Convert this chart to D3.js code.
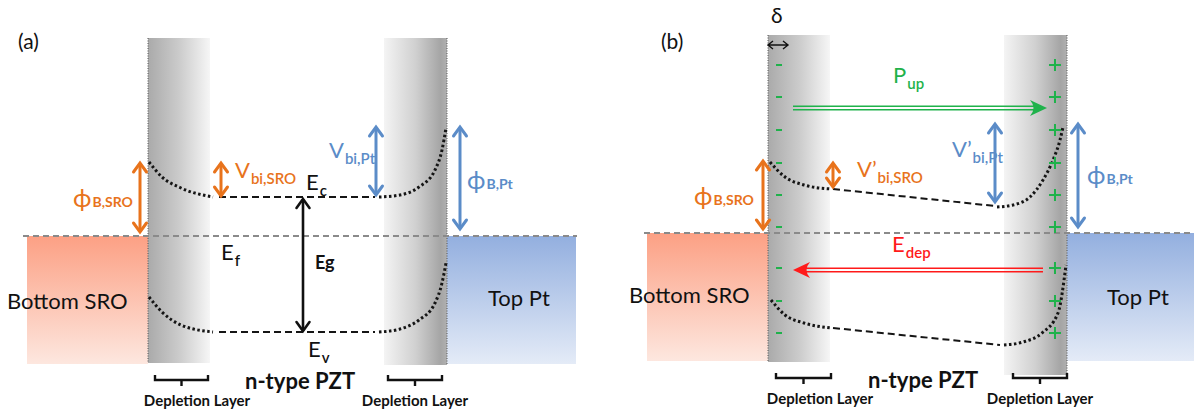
<!DOCTYPE html>
<html>
<head>
<meta charset="utf-8">
<script src="https://cdn.jsdelivr.net/npm/d3@7"></script>
<style>
body { margin: 0; background: #fff; }
text { font-family: Lato, "DejaVu Sans", sans-serif; }
</style>
</head>
<body>
<svg></svg>
<script>
let width = 1194
let height = 414

// two panels share one layout, (b) is drawn 620 px to the right
let panelNames = ['(a)', '(b)']
let panelShift = [[0, 0], [620, -3]]

// depth along the stack (diagram units) and energy (eV, Fermi level = 0)
let sroSpan = [27, 148]
let ptSpan = [447, 576]
let deplLeft = [148, 210]
let deplRight = [384, 447]
let metalEnergy = [0, -2.56]
let columnTop = 3.96
let columnBottoms = [[-2.54, -2.58], [-2.58, -2.84]]
let fermiSpans = [[23, 577], [24, 580]]

// panel (a): flat bands
let ecCurveLeftA = [[149, 1.48], [162, 1.18], [181, 0.96], [213, 0.78]]
let ecBulkA = [[219, 0.78], [375, 0.78]]
let ecCurveRightA = [[379, 0.78], [400, 0.82], [419, 0.98], [435, 1.32], [442, 1.72], [446, 2.16]]
let evCurveLeftA = [[149, -1.22], [162, -1.52], [181, -1.78], [213, -1.92]]
let evBulkA = [[219, -1.92], [375, -1.92]]
let evCurveRightA = [[379, -1.92], [400, -1.86], [419, -1.68], [435, -1.34], [442, -0.94], [446, -0.54]]

// panel (b): tilted bands under P_up
let ecCurveLeftB = [[150, 1.42], [165, 1.12], [184, 0.96], [211, 0.88]]
let ecBulkB = [[213, 0.88], [375, 0.54]]
let ecCurveRightB = [[377, 0.52], [393, 0.56], [410, 0.72], [423, 1.06], [433, 1.46], [440, 1.86], [443, 2.12]]
let evCurveLeftB = [[151, -1.34], [165, -1.64], [184, -1.80], [211, -1.90]]
let evBulkB = [[213, -1.90], [380, -2.24]]
let evCurveRightB = [[384, -2.24], [403, -2.18], [422, -2.00], [438, -1.60], [446, -0.64]]

// double-headed arrows: [depth, energy from, energy to, colour key]
let arrowsA = [[140, 1.48, 0.06, 'orange'], [221, 1.48, 0.78, 'orange'], [303, 0.76, -1.92, 'black'],
  [376, 2.2, 0.8, 'blue'], [460, 2.2, 0.12, 'blue']]
let arrowsB = [[143, 1.46, 0.06, 'orange'], [213, 1.42, 0.9, 'orange'],
  [375, 2.2, 0.6, 'blue'], [458, 2.2, 0.1, 'blue']]

// polarisation and depolarisation field arrows (b): [from, to, energy, colour key]
let fieldArrows = [[173, 427, 2.5, 'green'], [423, 173, -0.74, 'red']]

// bound charge rows (b)
let chargeEnergies = [3.36, 2.72, 2.06, 1.40, 0.76, 0.12, -0.70, -1.36, -2.00]
let chargeDepths = [159, 435]

// labels: [main, subscript, depth, energy, colour key, kind]
let labelsA = [
  ['(a)', '', 18, 3.74, 'black', 'title'],
  ['ϕ', 'B,SRO', 73, 0.58, 'orange', 'phi'],
  ['V', 'bi,SRO', 235, 1.16, 'orange', 'sym'],
  ['E', 'c', 306, 0.92, 'black', 'sym'],
  ['E', 'f', 221, -0.48, 'black', 'sym'],
  ['Eg', '', 315, -0.66, 'black', 'bold'],
  ['E', 'v', 308, -2.42, 'black', 'sym'],
  ['V', 'bi,Pt', 329, 1.56, 'blue', 'sym'],
  ['ϕ', 'B,Pt', 467, 0.94, 'blue', 'phi'],
  ['Bottom SRO', '', 7, -1.46, 'black', 'layer'],
  ['Top Pt', '', 488, -1.40, 'black', 'layer'],
  ['n-type PZT', '', 245, -3.06, 'black', 'pzt']
]
let labelsB = [
  ['(b)', '', 41, 3.68, 'black', 'title'],
  ['δ', '', 151, 4.2, 'black', 'title'],
  ['P', 'up', 273, 3.0, 'green', 'sym'],
  ['E', 'dep', 272, -0.38, 'red', 'sym'],
  ['ϕ', 'B,SRO', 74, 0.56, 'orange', 'phi'],
  ['V’', 'bi,SRO', 237, 1.12, 'orange', 'sym'],
  ['V’', 'bi,Pt', 332, 1.52, 'blue', 'sym'],
  ['ϕ', 'B,Pt', 467, 0.98, 'blue', 'phi'],
  ['Bottom SRO', '', 9, -1.40, 'black', 'layer'],
  ['Top Pt', '', 487, -1.44, 'black', 'layer'],
  ['n-type PZT', '', 248, -3.1, 'black', 'pzt']
]
let bracketsA = [[155, 208], [388, 442]]
let bracketsB = [[156, 211], [393, 447]]
let bracketEnergy = [-2.78, -2.8]
let depletionText = 'Depletion Layer'
let depletionCenters = [[197, 415], [200, 420]]
let depletionTextEnergy = [-3.40, -3.42]

let colors = { orange: '#e8731c', blue: '#5b8cc8', black: '#111', green: '#1fb24b', red: '#ff1a1a' }

let svg = d3.select('svg').attr('width', width).attr('height', height)
let defs = svg.append('defs')

let addGradient = (id, stops, vertical) => {
  let g = defs.append('linearGradient').attr('id', id)
    .attr('x1', 0).attr('y1', 0).attr('x2', vertical ? 0 : 1).attr('y2', vertical ? 1 : 0)
  stops.forEach(s => g.append('stop').attr('offset', s[0]).attr('stop-color', s[1]))
}
addGradient('sro', [[0, '#fca084'], [1, '#fde7df']], true)
addGradient('pt', [[0, '#93afdf'], [1, '#e4ebf7']], true)
addGradient('deplL', [[0, '#aaaaaa'], [0.5, '#cbcbcb'], [1, '#f6f6f6']], false)
addGradient('deplR', [[0, '#f4f4f4'], [0.5, '#d0d0d0'], [0.9, '#a5a5a5'], [1, '#b0b0b0']], false)

let xScale = d3.scaleLinear().domain([0, 580]).range([0, 580])
let yScale = d3.scaleLinear().domain([0, 1]).range([236, 186])

let line = d3.line()
  .x(d => xScale(d[0]))
  .y(d => yScale(d[1]))
  .curve(d3.curveMonotoneX)

let drawBand = (g, pts, dotted) => {
  g.append('path')
    .attr('d', line(pts))
    .attr('fill', 'none')
    .attr('stroke', '#151515')
    .attr('stroke-width', dotted ? 3 : 2)
    .attr('stroke-dasharray', dotted ? '2.5,2.5' : '7,4')
}

let drawVArrow = (g, a, w) => {
  let X = xScale(a[0])
  let top = Math.min(yScale(a[1]), yScale(a[2]))
  let bot = Math.max(yScale(a[1]), yScale(a[2]))
  let c = colors[a[3]]
  g.append('line').attr('x1', X).attr('x2', X).attr('y1', top + 1).attr('y2', bot - 1)
    .attr('stroke', c).attr('stroke-width', w)
  g.append('path').attr('d', `M${X - 6.5},${top + 10}L${X},${top + 1}L${X + 6.5},${top + 10}`)
    .attr('fill', 'none').attr('stroke', c).attr('stroke-width', w).attr('stroke-linecap', 'round')
  g.append('path').attr('d', `M${X - 6.5},${bot - 10}L${X},${bot - 1}L${X + 6.5},${bot - 10}`)
    .attr('fill', 'none').attr('stroke', c).attr('stroke-width', w).attr('stroke-linecap', 'round')
}

let drawHArrow = (g, a) => {
  let X1 = xScale(a[0]), X2 = xScale(a[1]), Y = yScale(a[2])
  let dir = Math.sign(X2 - X1)
  let c = colors[a[3]]
  ;[-1.8, 1.8].forEach(o => {
    g.append('line').attr('x1', X1).attr('x2', X2 - dir * 10).attr('y1', Y + o).attr('y2', Y + o)
      .attr('stroke', c).attr('stroke-width', 1.5)
  })
  g.append('path')
    .attr('d', `M${X2},${Y}L${X2 - dir * 17},${Y - 8}Q${X2 - dir * 10},${Y} ${X2 - dir * 17},${Y + 8}Z`)
    .attr('fill', c)
}

let styles = {
  title: { size: 21, weight: 400 },
  phi: { size: 25, weight: 400, sub: 14, subWeight: 700, dy: 0 },
  sym: { size: 22, weight: 400, sub: 15, subWeight: 600, dy: 6 },
  bold: { size: 18, weight: 700 },
  layer: { size: 22, weight: 400 },
  pzt: { size: 22, weight: 700 }
}

let drawLabel = (g, l) => {
  let s = styles[l[5]]
  let t = g.append('text')
    .attr('x', xScale(l[2])).attr('y', yScale(l[3]))
    .attr('fill', colors[l[4]])
    .attr('font-size', s.size).attr('font-weight', s.weight)
    .text(l[0])
  if (l[1]) {
    t.append('tspan').attr('dy', s.dy).attr('dx', 1)
      .attr('font-size', s.sub).attr('font-weight', s.subWeight)
      .text(l[1])
  }
}

let drawPanel = (i, bands, arrows, labels, brackets) => {
  let g = svg.append('g').attr('transform', 'translate(' + panelShift[i][0] + ',' + panelShift[i][1] + ')')

  g.append('rect')
    .attr('x', xScale(sroSpan[0])).attr('width', xScale(sroSpan[1]) - xScale(sroSpan[0]))
    .attr('y', yScale(metalEnergy[0])).attr('height', yScale(metalEnergy[1]) - yScale(metalEnergy[0]))
    .attr('fill', 'url(#sro)')
  g.append('rect')
    .attr('x', xScale(ptSpan[0])).attr('width', xScale(ptSpan[1]) - xScale(ptSpan[0]))
    .attr('y', yScale(metalEnergy[0])).attr('height', yScale(metalEnergy[1]) - yScale(metalEnergy[0]))
    .attr('fill', 'url(#pt)')

  let cols = [[deplLeft, 'deplL', columnBottoms[i][0], deplLeft[0]], [deplRight, 'deplR', columnBottoms[i][1], deplRight[1]]]
  cols.forEach(c => {
    g.append('rect')
      .attr('x', xScale(c[0][0])).attr('width', xScale(c[0][1]) - xScale(c[0][0]))
      .attr('y', yScale(columnTop)).attr('height', yScale(c[2]) - yScale(columnTop))
      .attr('fill', 'url(#' + c[1] + ')')
    g.append('line')
      .attr('x1', xScale(c[3])).attr('x2', xScale(c[3]))
      .attr('y1', yScale(columnTop)).attr('y2', yScale(c[2]))
      .attr('stroke', '#555').attr('stroke-width', 1).attr('stroke-dasharray', '1,1.5')
  })

  g.append('line')
    .attr('x1', xScale(fermiSpans[i][0])).attr('x2', xScale(fermiSpans[i][1]))
    .attr('y1', yScale(0)).attr('y2', yScale(0))
    .attr('stroke', '#8a8a8a').attr('stroke-width', 1.8).attr('stroke-dasharray', '6,4')

  bands.forEach(b => drawBand(g, b[0], b[1]))
  arrows.forEach(a => drawVArrow(g, a, a[3] == 'black' ? 2.6 : 3))
  labels.forEach(l => drawLabel(g, l))

  brackets.forEach((b, j) => {
    let x1 = xScale(b[0]), x2 = xScale(b[1]), xc = (x1 + x2) / 2
    let y0 = yScale(bracketEnergy[i])
    g.append('path')
      .attr('d', `M${x1},${y0}L${x1},${y0 + 5}L${x2},${y0 + 5}L${x2},${y0}M${xc},${y0 + 5}L${xc},${y0 + 11}`)
      .attr('fill', 'none').attr('stroke', '#111').attr('stroke-width', 2.4)
    g.append('text')
      .attr('x', xScale(depletionCenters[i][j])).attr('y', yScale(depletionTextEnergy[i]))
      .attr('text-anchor', 'middle')
      .attr('font-size', 15).attr('font-weight', 700).attr('fill', '#111')
      .text(depletionText)
  })
  return g
}

drawPanel(0,
  [[ecCurveLeftA, true], [ecBulkA, false], [ecCurveRightA, true],
   [evCurveLeftA, true], [evBulkA, false], [evCurveRightA, true]],
  arrowsA, labelsA, bracketsA)

let gb = drawPanel(1,
  [[ecCurveLeftB, true], [ecBulkB, false], [ecCurveRightB, true],
   [evCurveLeftB, true], [evBulkB, false], [evCurveRightB, true]],
  arrowsB, labelsB, bracketsB)

fieldArrows.forEach(a => drawHArrow(gb, a))

// delta marker
let dY = yScale(3.76)
gb.append('path')
  .attr('d', `M${xScale(153)},${dY - 4}L${xScale(148)},${dY}L${xScale(153)},${dY + 4}M${xScale(148)},${dY}L${xScale(168)},${dY}M${xScale(163)},${dY - 4}L${xScale(168)},${dY}L${xScale(163)},${dY + 4}`)
  .attr('fill', 'none').attr('stroke', '#111').attr('stroke-width', 1.4)

// bound charges
chargeEnergies.forEach(e => {
  let y = yScale(e)
  let xm = xScale(chargeDepths[0]), xp = xScale(chargeDepths[1])
  gb.append('line').attr('x1', xm - 3).attr('x2', xm + 3).attr('y1', y).attr('y2', y)
    .attr('stroke', colors.green).attr('stroke-width', 2)
  gb.append('path').attr('d', `M${xp - 6},${y}L${xp + 6},${y}M${xp},${y - 6}L${xp},${y + 6}`)
    .attr('stroke', colors.green).attr('stroke-width', 2)
})
</script>
</body>
</html>
